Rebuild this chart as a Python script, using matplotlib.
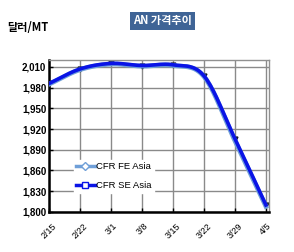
import numpy as np
import matplotlib
matplotlib.use('Agg')
import matplotlib.pyplot as plt

plt.rcParams['font.family'] = ['Noto Sans CJK KR', 'DejaVu Sans']

# datos
dates = ['2/15', '2/22', '3/1', '3/8', '3/15', '3/22', '3/29', '4/5']
fe_asia = [1985, 2006, 2014, 2011, 2012, 1996, 1903, 1808]
se_asia = [1986, 2007, 2015, 2012, 2013, 1997, 1906, 1810]
yticks = [1800, 1830, 1860, 1890, 1920, 1950, 1980, 2010]


def smooth(y, n=20):
    # curva suavizada tipo Excel (Catmull-Rom) entre los puntos
    y = np.asarray(y, float)
    x = np.arange(len(y), dtype=float)
    p = np.r_[2 * y[0] - y[1], y, 2 * y[-1] - y[-2]]
    xs, ys = [], []
    for i in range(len(y) - 1):
        t = np.linspace(0, 1, n, endpoint=False)
        p0, p1, p2, p3 = p[i], p[i + 1], p[i + 2], p[i + 3]
        yy = 0.5 * ((2 * p1) + (-p0 + p2) * t + (2 * p0 - 5 * p1 + 4 * p2 - p3) * t**2
                    + (-p0 + 3 * p1 - 3 * p2 + p3) * t**3)
        xs.append(x[i] + t)
        ys.append(yy)
    xs.append([x[-1]])
    ys.append([y[-1]])
    return np.concatenate(xs), np.concatenate(ys)


fig = plt.figure(figsize=(2.94, 2.52), dpi=100)
ax = fig.add_axes([0.167, 0.159, 0.748, 0.603])

x = np.arange(len(dates))
xs, ys = smooth(fe_asia)
ax.plot(xs, ys, color='#6f9fd8', lw=3.4, zorder=3)
xs, ys = smooth(se_asia)
ax.plot(xs, ys, color='#0a14e6', lw=2.6, zorder=4)
ax.plot(x, se_asia, ls='none', marker='v', ms=3.5, color='#101830', zorder=2)

# entradas de la leyenda
ax.plot([], [], color='#6f9fd8', lw=2.5, marker='D', ms=4, mfc='white',
        mec='#6f9fd8', label='CFR FE Asia')
ax.plot([], [], color='#0a14e6', lw=2.5, marker='s', ms=4, mfc='white',
        mec='#0a14e6', label='CFR SE Asia')
leg = ax.legend(loc='center left', bbox_to_anchor=(0.09, 0.235), frameon=True,
                fancybox=False, edgecolor='white', framealpha=1,
                handlelength=2.0, handletextpad=0.1, labelspacing=1.05,
                borderpad=0.25, prop={'family': 'Liberation Sans', 'size': 6.8})

ax.set_xlim(0, 7.1)
ax.set_ylim(1800, 2020)
ax.set_yticks(yticks)
ax.set_yticklabels([f'{v:,}' for v in yticks], fontfamily='Liberation Sans',
                   fontweight='bold', fontsize=7)
ax.set_xticks(x)
ax.set_xticklabels(dates, rotation=45, fontfamily='Liberation Sans',
                   fontsize=6.5, ha='center')
ax.tick_params(axis='both', length=3, width=1, direction='in', pad=2)
ax.tick_params(axis='x', pad=7)
ax.grid(True, color='#8a8a8a', lw=1.0)
ax.set_axisbelow(True)
for s in ['top', 'right']:
    ax.spines[s].set_color('#909090')
    ax.spines[s].set_linewidth(1.0)
for s in ['left', 'bottom']:
    ax.spines[s].set_color('black')
    ax.spines[s].set_linewidth(1.8)

fig.text(0.025, 0.89, '달러/MT', fontsize=8, ha='left', va='center',
         fontweight='bold')
fig.text(0.552, 0.917, 'AN 가격추이', fontsize=8, color='white', ha='center',
         va='center', fontweight='bold',
         bbox=dict(boxstyle='square,pad=0.25', fc='#3f6496', ec='none'))

fig.savefig('out.png', dpi=100)
